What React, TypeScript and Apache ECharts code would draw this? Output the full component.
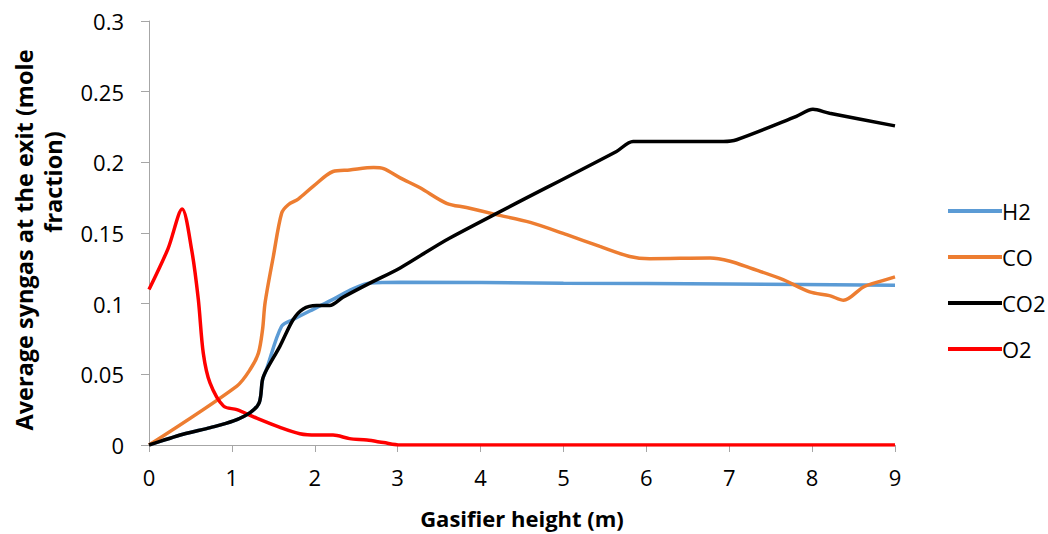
import React, { useEffect, useRef } from "react";
import * as echarts from "echarts";

const xTicks = [0, 1, 2, 3, 4, 5, 6, 7, 8, 9];
const seriesNames = ["H2", "CO", "CO2", "O2"];
const seriesColors = ["#5b9bd5", "#ed7d31", "#000000", "#ff0000"];
const yTitleLines = ["Average syngas at the exit (mole", "fraction)"];

const h2Data: [number, number][] = [
  [0, 0], [0.41, 0.0076], [0.74, 0.0123], [1.02, 0.017], [1.22, 0.0229], [1.33, 0.03],
  [1.37, 0.046], [1.42, 0.054], [1.6, 0.084], [1.74, 0.0888], [1.98, 0.096],
  [2.22, 0.103], [2.46, 0.1105], [2.67, 0.1147], [3.03, 0.1152], [5, 0.1145],
  [7, 0.114], [9, 0.113],
];
const coData: [number, number][] = [
  [0, 0], [1.06, 0.0417], [1.22, 0.0534], [1.32, 0.065], [1.37, 0.0817], [1.4, 0.1005],
  [1.5, 0.1334], [1.6, 0.164], [1.68, 0.17], [1.8, 0.174], [1.98, 0.183], [2.22, 0.1935],
  [2.42, 0.1946], [2.71, 0.1963], [2.83, 0.1955], [3.03, 0.189], [3.27, 0.182],
  [3.59, 0.171], [3.83, 0.168], [4.19, 0.163], [4.6, 0.1575], [5.04, 0.1488],
  [5.44, 0.1405], [5.8, 0.1334], [6.04, 0.1318], [6.77, 0.1323], [7.01, 0.13],
  [7.25, 0.1253], [7.65, 0.117], [7.97, 0.1083], [8.21, 0.1057], [8.38, 0.1024],
  [8.62, 0.1118], [8.82, 0.1158], [9, 0.119],
];
const co2Data: [number, number][] = [
  [0, 0], [0.41, 0.0076], [0.74, 0.0123], [1.02, 0.017], [1.22, 0.0229], [1.33, 0.03],
  [1.37, 0.0464], [1.42, 0.0534], [1.58, 0.07], [1.74, 0.0888], [1.86, 0.0963],
  [2.02, 0.0987], [2.18, 0.0987], [2.34, 0.1045], [2.67, 0.1147], [3.03, 0.1253],
  [3.63, 0.1465], [5.64, 0.2077], [5.84, 0.2148], [6.93, 0.2148], [7.09, 0.216],
  [7.81, 0.2325], [8.01, 0.2375], [8.21, 0.2347], [9, 0.2258],
];
const o2Data: [number, number][] = [
  [0, 0.11], [0.23, 0.139], [0.4, 0.167], [0.515, 0.138], [0.595, 0.103], [0.655, 0.065],
  [0.736, 0.044], [0.9, 0.0275], [1.06, 0.025], [1.3, 0.019], [1.58, 0.0125],
  [1.82, 0.008], [2.02, 0.007], [2.22, 0.007], [2.42, 0.0045], [2.63, 0.0035],
  [2.83, 0.0017], [3.03, 0], [5, 0], [7, 0], [9, 0],
];
const allData = [h2Data, coData, co2Data, o2Data];

const font = "'Open Sans', 'Liberation Sans', sans-serif";

export default function App() {
  const ref = useRef<HTMLDivElement>(null);
  useEffect(() => {
    if (!ref.current) return;
    const chart = echarts.init(ref.current, null, { renderer: "svg" });
    chart.setOption({
      animation: false,
      backgroundColor: "#ffffff",
      textStyle: { fontFamily: font },
      grid: { left: 149, right: 153, top: 21, bottom: 88, containLabel: false },
      graphic: [
        {
          type: "text",
          x: 24,
          y: 240,
          rotation: Math.PI / 2,
          style: {
            text: yTitleLines[0],
            fontSize: 23.5,
            fontWeight: "bold",
            fontFamily: font,
            fill: "#000",
            textAlign: "center",
            textVerticalAlign: "middle",
          },
        },
        {
          type: "text",
          x: 53,
          y: 182,
          rotation: Math.PI / 2,
          style: {
            text: yTitleLines[1],
            fontSize: 23.5,
            fontWeight: "bold",
            fontFamily: font,
            fill: "#000",
            textAlign: "center",
            textVerticalAlign: "middle",
          },
        },
      ],
      legend: {
        orient: "vertical",
        left: 943,
        top: 195,
        itemWidth: 54,
        itemHeight: 4,
        itemGap: 24,
        icon: "rect",
        data: seriesNames,
        textStyle: { fontSize: 22, color: "#000", fontFamily: font, padding: [0, 0, 0, -5] },
      },
      xAxis: {
        type: "value",
        min: xTicks[0],
        max: xTicks[xTicks.length - 1],
        interval: 1,
        name: "Gasifier height (m)",
        nameLocation: "middle",
        nameGap: 62,
        nameTextStyle: { fontSize: 22, fontWeight: "bold", color: "#000", fontFamily: font },
        axisLine: { lineStyle: { color: "#a6a6a6", width: 1 } },
        axisTick: { show: true, length: 7, lineStyle: { color: "#a6a6a6" } },
        axisLabel: { fontSize: 22, color: "#000", margin: 21, fontFamily: font },
        splitLine: { show: false },
      },
      yAxis: {
        type: "value",
        min: 0,
        max: 0.3,
        interval: 0.05,
        axisLine: { show: true, lineStyle: { color: "#a6a6a6", width: 1 } },
        axisTick: { show: true, length: 8, lineStyle: { color: "#a6a6a6" } },
        axisLabel: { fontSize: 22, color: "#000", margin: 25, fontFamily: font },
        splitLine: { show: false },
      },
      series: seriesNames.map((name, i) => ({
        name,
        type: "line",
        data: allData[i],
        smooth: 0.3,
        showSymbol: false,
        symbol: "none",
        lineStyle: { color: seriesColors[i], width: 3.5 },
        itemStyle: { color: seriesColors[i] },
        z: i === 2 ? 3 : 2,
      })),
    });
    return () => chart.dispose();
  }, []);
  return <div ref={ref} style={{ width: 1048, height: 534, position: "absolute", left: 0, top: 0 }} />;
}
